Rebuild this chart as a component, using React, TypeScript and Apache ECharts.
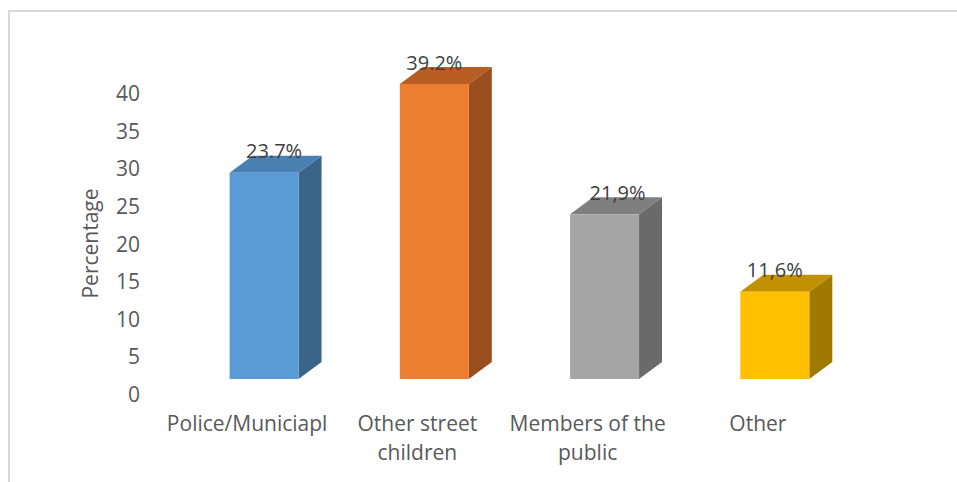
import React, { useEffect, useRef } from "react";
import * as echarts from "echarts";

const categories = ["Police/Municiapl", "Other street\nchildren", "Members of the\npublic", "Other"];
const values = [27.4, 39.2, 21.9, 11.6];
const valueLabels = ["23.7%", "39.2%", "21,9%", "11,6%"];
const yTicks = { min: 0, max: 40, interval: 5 };

const frontColors = ["#5b9bd5", "#ed7d31", "#a5a5a5", "#ffc000"];
const topColors = ["#4a7fb1", "#b95e22", "#7f7f7f", "#c29100"];
const sideColors = ["#3a6588", "#9a4e1d", "#6a6a6a", "#a07a00"];
const labelDx = [10, 0, 13, 0];

const FONT = "'Open Sans', 'Noto Sans', sans-serif";
const DEPTH_X = 23;
const DEPTH_Y = 17;
const FLOOR_SHIFT = 15;

export default function App() {
  const ref = useRef<HTMLDivElement>(null);
  useEffect(() => {
    if (!ref.current) return;
    const chart = echarts.init(ref.current, undefined, { renderer: "svg" });
    chart.setOption({
      animation: false,
      backgroundColor: "#ffffff",
      graphic: [
        {
          type: "line",
          shape: { x1: 9, y1: 11, x2: 9, y2: 490 },
          style: { stroke: "#d9d9d9", lineWidth: 2 },
          silent: true,
        },
        {
          type: "line",
          shape: { x1: 8, y1: 11, x2: 970, y2: 11 },
          style: { stroke: "#d9d9d9", lineWidth: 2 },
          silent: true,
        },
      ],
      grid: { left: 162, right: 114, top: 93, bottom: 88 },
      xAxis: {
        type: "category",
        data: categories,
        axisLine: { show: false },
        axisTick: { show: false },
        axisLabel: {
          color: "#595959",
          fontFamily: FONT,
          fontSize: 21,
          lineHeight: 29,
          margin: 14,
          interval: 0,
        },
      },
      yAxis: {
        type: "value",
        min: yTicks.min,
        max: yTicks.max,
        interval: yTicks.interval,
        splitLine: { show: false },
        axisLine: { show: false },
        axisTick: { show: false },
        axisLabel: { color: "#595959", fontFamily: FONT, fontSize: 21, margin: 22 },
        name: "Percentage",
        nameLocation: "middle",
        nameGap: 62,
        nameTextStyle: { color: "#595959", fontFamily: FONT, fontSize: 21 },
      },
      series: [
        {
          type: "custom",
          data: values.map((v, i) => [i, v]),
          encode: { x: 0, y: 1 },
          renderItem: (params: any, api: any) => {
            const i = api.value(0);
            const v = api.value(1);
            const idx = params.dataIndex;
            const base = api.coord([i, 0]);
            const top = api.coord([i, v]);
            const band = api.size([1, 0])[0];
            const w = band * 0.405;
            const x0 = base[0] - band * 0.103;
            const x1 = x0 + w;
            const yb = base[1] - FLOOR_SHIFT;
            const yt = top[1] - FLOOR_SHIFT;
            return {
              type: "group",
              children: [
                {
                  type: "polygon",
                  shape: {
                    points: [
                      [x1, yt],
                      [x1 + DEPTH_X, yt - DEPTH_Y],
                      [x1 + DEPTH_X, yb - DEPTH_Y],
                      [x1, yb],
                    ],
                  },
                  style: { fill: sideColors[idx] },
                },
                {
                  type: "polygon",
                  shape: {
                    points: [
                      [x0, yt],
                      [x1, yt],
                      [x1 + DEPTH_X, yt - DEPTH_Y],
                      [x0 + DEPTH_X, yt - DEPTH_Y],
                    ],
                  },
                  style: { fill: topColors[idx] },
                },
                {
                  type: "rect",
                  shape: { x: x0, y: yt, width: w, height: yb - yt },
                  style: { fill: frontColors[idx] },
                },
                {
                  type: "text",
                  x: (x0 + x1) / 2 + labelDx[idx],
                  y: yt - DEPTH_Y - 5,
                  style: {
                    text: valueLabels[idx],
                    fill: "#404040",
                    fontFamily: FONT,
                    fontSize: 20,
                    align: "center",
                    verticalAlign: "middle",
                  },
                },
              ],
            };
          },
        },
      ],
    });
    return () => chart.dispose();
  }, []);
  return (
    <div
      ref={ref}
      style={{ position: "fixed", left: 0, top: 0, width: 957, height: 482 }}
    />
  );
}
